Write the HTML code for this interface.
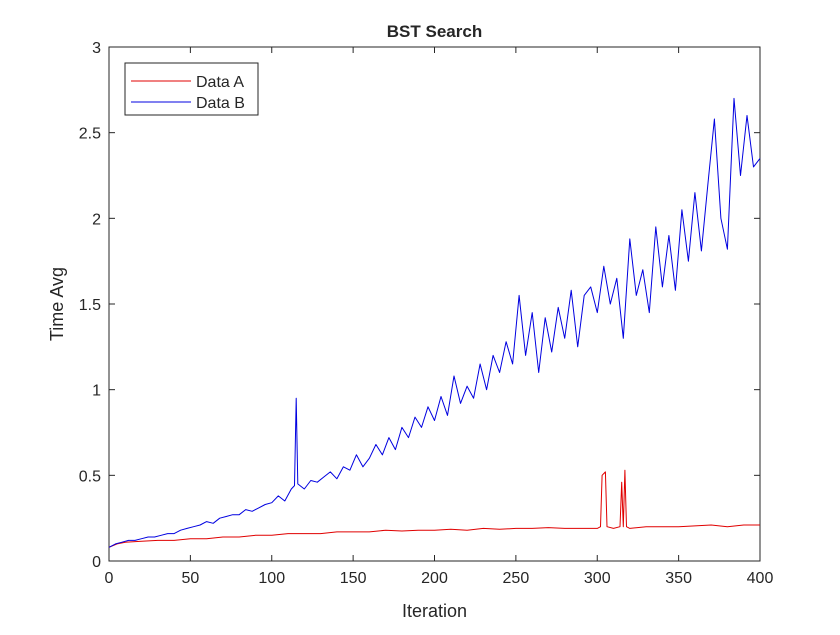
<!DOCTYPE html>
<html><head><meta charset="utf-8"><style>
body{margin:0;background:#fff;}
svg text{font-family:"Liberation Sans",Arial,sans-serif;fill:#262626;}
</style></head><body>
<svg id="chart" width="840" height="630" viewBox="0 0 840 630" xmlns="http://www.w3.org/2000/svg">
<rect x="0" y="0" width="840" height="630" fill="#fff"/>
<g id="plot"></g>
</svg>
<script>
const xTicks=[0,50,100,150,200,250,300,350,400];
const yTicks=[0,0.5,1,1.5,2,2.5,3];
const yTickLabels=["0","0.5","1","1.5","2","2.5","3"];
const xA=[0,5,10,20,30,40,50,60,70,80,90,100,110,120,130,140,150,160,170,180,190,200,210,220,230,240,250,260,270,280,290,300,302,303,305,306,310,314,315,316,317,318,320,330,340,350,360,370,380,390,400];
const yA=[0.08,0.10,0.11,0.115,0.12,0.12,0.13,0.13,0.14,0.14,0.15,0.15,0.16,0.16,0.16,0.17,0.17,0.17,0.18,0.175,0.18,0.18,0.185,0.18,0.19,0.185,0.19,0.19,0.195,0.19,0.19,0.19,0.20,0.50,0.52,0.20,0.19,0.20,0.46,0.20,0.53,0.20,0.19,0.20,0.20,0.20,0.205,0.21,0.20,0.21,0.21];
const xB=[0,4,8,12,16,20,24,28,32,36,40,44,48,52,56,60,64,68,72,76,80,84,88,92,96,100,104,108,112,114,115,116,120,124,128,132,136,140,144,148,152,156,160,164,168,172,176,180,184,188,192,196,200,204,208,212,216,220,224,228,232,236,240,244,248,252,256,260,264,268,272,276,280,284,288,292,296,300,304,308,312,316,320,324,328,332,336,340,344,348,352,356,360,364,368,372,376,380,384,388,392,396,400];
const yB=[0.08,0.10,0.11,0.12,0.12,0.13,0.14,0.14,0.15,0.16,0.16,0.18,0.19,0.20,0.21,0.23,0.22,0.25,0.26,0.27,0.27,0.30,0.29,0.31,0.33,0.34,0.38,0.35,0.42,0.44,0.95,0.45,0.42,0.47,0.46,0.49,0.52,0.48,0.55,0.53,0.62,0.55,0.60,0.68,0.62,0.72,0.65,0.78,0.72,0.84,0.78,0.90,0.82,0.96,0.85,1.08,0.92,1.02,0.95,1.15,1.00,1.20,1.10,1.28,1.15,1.55,1.20,1.45,1.10,1.42,1.22,1.48,1.30,1.58,1.25,1.55,1.60,1.45,1.72,1.50,1.65,1.30,1.88,1.55,1.70,1.45,1.95,1.60,1.90,1.58,2.05,1.75,2.15,1.81,2.20,2.58,2.00,1.82,2.70,2.25,2.60,2.30,2.35];
const L=109,R=760,T=47,B=561;
const sx=v=>L+(v-0)/(400-0)*(R-L);
const sy=v=>B-(v-0)/(3-0)*(B-T);
const NS="http://www.w3.org/2000/svg";
const g=document.getElementById('plot');
function mk(tag,at){const e=document.createElementNS(NS,tag);for(const k in at)e.setAttribute(k,at[k]);g.appendChild(e);return e;}
let e=mk('rect',{x:L,y:T,width:R-L,height:B-T,fill:'#fff',stroke:'#262626','stroke-width':1});


xTicks.forEach(t=>{
 const x=sx(t);
 let a=mk('line',{x1:x,y1:B,x2:x,y2:B-6,stroke:'#262626'});
 
 
 let b=mk('line',{x1:x,y1:T,x2:x,y2:T+6,stroke:'#262626'});
 
 
 let tx=mk('text',{x:x,y:B+22,'text-anchor':'middle','font-size':16});
 tx.textContent=String(t);
 
 
});
yTicks.forEach((t,i)=>{
 const y=sy(t);
 let a=mk('line',{x1:L,y1:y,x2:L+6,y2:y,stroke:'#262626'});
 
 
 let b=mk('line',{x1:R,y1:y,x2:R-6,y2:y,stroke:'#262626'});
 
 
 let tx=mk('text',{x:L-8,y:y+6,'text-anchor':'end','font-size':16});
 tx.textContent=yTickLabels[i];
 
 
});
function series(xs,ys,col,name){
 const d=xs.map((x,i)=>(i?'L':'M')+sx(x).toFixed(1)+' '+sy(ys[i]).toFixed(1)).join(' ');
 let p=mk('path',{d:d,fill:'none',stroke:col,'stroke-width':1,'stroke-linejoin':'round'});
 
 
}
series(xA,yA,'#e00000','series-data-a');
series(xB,yB,'#0000e0','series-data-b');
let t=mk('text',{x:(L+R)/2,y:37,'text-anchor':'middle','font-size':17,'font-weight':'bold'});
t.textContent='BST Search';


t=mk('text',{x:(L+R)/2,y:617,'text-anchor':'middle','font-size':18});
t.textContent='Iteration';


t=mk('text',{x:0,y:0,'text-anchor':'middle','font-size':18,transform:'translate(63,'+((T+B)/2)+') rotate(-90)'});
t.textContent='Time Avg';


let lg=mk('rect',{x:125,y:63,width:133,height:52,fill:'#fff',stroke:'#262626','stroke-width':1});


[['Data A','#e00000',81],['Data B','#0000e0',102]].forEach(([n,c,y])=>{
 let l=mk('line',{x1:131,y1:y,x2:191,y2:y,stroke:c});
 
 
 let tx=mk('text',{x:196,y:y+6,'font-size':16});
 tx.textContent=n;
 
 
});
</script>
</body></html>
